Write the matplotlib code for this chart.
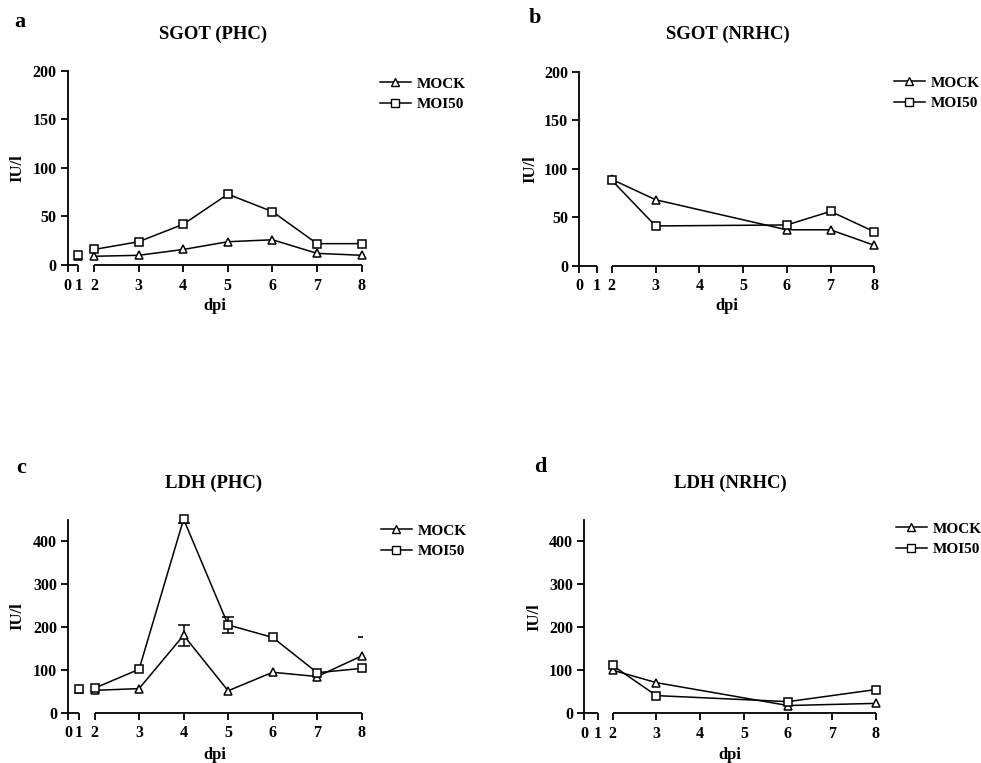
import numpy as np
import matplotlib
matplotlib.use('Agg')
import matplotlib.pyplot as plt
from matplotlib.lines import Line2D

plt.rcParams['font.family'] = ['Liberation Serif', 'DejaVu Serif']
plt.rcParams['font.weight'] = 'bold'

x_ticks = [0, 1, 2, 3, 4, 5, 6, 7, 8]
series_names = ['MOCK', 'MOI50']

# Panel a: SGOT (PHC)
a_days = [1, 2, 3, 4, 5, 6, 7, 8]
a_mock = [9, 9, 10, 16, 24, 26, 12, 10]
a_moi = [10, 16, 24, 42, 73, 55, 22, 22]

# Panel b: SGOT (NRHC)
b_days = [2, 3, 6, 7, 8]
b_mock = [89, 68, 37, 37, 21]
b_moi = [88, 41, 42, 56, 35]

# Panel c: LDH (PHC)
c_days = [1, 2, 3, 4, 5, 6, 7, 8]
c_mock = [54, 52, 56, 180, 51, 94, 84, 132]
c_mock_err = [0, 0, 0, 24, 0, 0, 0, 0]
c_moi = [54, 57, 101, 450, 204, 175, 93, 103]
c_moi_err = [0, 0, 0, 8, 18, 0, 0, 0]
c_cap_day = [8]
c_cap_val = [175]

# Panel d: LDH (NRHC)
d_days = [2, 3, 6, 8]
d_mock = [100, 71, 18, 23]
d_moi = [111, 41, 27, 55]

W, H = 981, 763
fig = plt.figure(figsize=(W / 100, H / 100), dpi=100)


def make_scale(p0, p1):
    xs = [0, 1, 2, 8]
    ps = [p0, p1, 2, 8]

    def fwd(x):
        x = np.asarray(x, dtype=float)
        out = np.interp(x, xs, ps)
        out = np.where(x < 0, p0 + x * (p1 - p0), out)
        out = np.where(x > 8, x, out)
        return out

    def inv(p):
        p = np.asarray(p, dtype=float)
        out = np.interp(p, ps, xs)
        out = np.where(p < p0, (p - p0) / (p1 - p0), out)
        out = np.where(p > 8, p, out)
        return out
    return fwd, inv


def px_axes(l, r, t, b):
    return [l / W, 1 - b / H, (r - l) / W, (b - t) / H]


def rect_top_px(rect):
    return (1 - rect[1] - rect[3]) * H


def rect_bot_px(rect):
    return (1 - rect[1]) * H


def draw_panel(rect, scale, ymax, yticks, days, mock, moi, title, letter,
               letter_xy, title_xy, leg_xy, ylab_x, xlab_y,
               mock_err=None, moi_err=None):
    ax = fig.add_axes(rect)
    ax.set_xscale('function', functions=make_scale(*scale))
    ax.set_xlim(0, 8)
    ax.set_ylim(0, ymax)
    for s in ['top', 'right', 'bottom']:
        ax.spines[s].set_visible(False)
    ax.spines['left'].set_linewidth(1.3)
    ax.hlines(0, 0, 1, color='black', lw=1.3, clip_on=False)
    ax.hlines(0, 2, 8, color='black', lw=1.3, clip_on=False)
    ax.set_xticks(x_ticks)
    ax.set_xticklabels([str(t) for t in x_ticks])
    ax.set_yticks(yticks)
    ax.tick_params(axis='both', direction='out', length=5, width=1.3,
                   labelsize=11.5, pad=3)
    ax.tick_params(axis='x', pad=4)
    for lab in ax.get_xticklabels() + ax.get_yticklabels():
        lab.set_fontweight('bold')

    days = np.asarray(days)
    for vals, mk, err in [(mock, '^', mock_err), (moi, 's', moi_err)]:
        vals = np.asarray(vals)
        for seg in [days <= 1, days >= 2]:
            if seg.sum() == 0:
                continue
            ax.plot(days[seg], vals[seg], '-', color='black', lw=1.1,
                    marker=mk, ms=6, mfc='white', mec='black', mew=1.1,
                    clip_on=False, zorder=3)
        if err is not None:
            err = np.asarray(err)
            m = err > 0
            ax.errorbar(days[m], vals[m], yerr=err[m], fmt='none',
                        ecolor='black', elinewidth=1.1, capsize=4,
                        capthick=1.1, zorder=2)

    handles = [Line2D([], [], color='black', lw=1.1, marker='^', ms=6,
                      mfc='white', mec='black'),
               Line2D([], [], color='black', lw=1.1, marker='s', ms=6,
                      mfc='white', mec='black')]
    ax.legend(handles, series_names, loc='center left',
              bbox_to_anchor=(leg_xy[0] / W, 1 - leg_xy[1] / H),
              bbox_transform=fig.transFigure, frameon=False,
              borderpad=0, borderaxespad=0, handlelength=2.0,
              handletextpad=0.4, labelspacing=0.45, numpoints=1,
              prop={'family': 'Liberation Serif', 'weight': 'bold', 'size': 11})

    fig.text(title_xy[0] / W, 1 - title_xy[1] / H, title, ha='center',
             va='center', fontsize=13.5, fontweight='bold')
    fig.text(letter_xy[0] / W, 1 - letter_xy[1] / H, letter, ha='center',
             va='center', fontsize=16, fontweight='bold')
    fig.text(ylab_x / W, 1 - (rect_top_px(rect) + rect_bot_px(rect)) / 2 / H,
             'IU/l', rotation=90, ha='center', va='center', fontsize=12,
             fontweight='bold')
    xc = (rect[0] + rect[0] + rect[2]) / 2
    fig.text(xc, 1 - xlab_y / H, 'dpi', ha='center', va='center',
             fontsize=12, fontweight='bold')
    return ax


ax_a = draw_panel(px_axes(67.7, 361.7, 71, 265), (1.41, 1.65), 200,
                  [0, 50, 100, 150, 200], a_days, a_mock, a_moi,
                  'SGOT (PHC)', 'a', (20, 22), (213, 34), (380, 94), 17, 306)
ax_b = draw_panel(px_axes(579, 874.3, 71.7, 265.7), (1.25, 1.66), 200,
                  [0, 50, 100, 150, 200], b_days, b_mock, b_moi,
                  'SGOT (NRHC)', 'b', (535, 18), (728, 34), (894, 93), 530, 306)
ax_c = draw_panel(px_axes(68.3, 361.7, 520, 712.7), (1.41, 1.65), 448,
                  [0, 100, 200, 300, 400], c_days, c_mock, c_moi,
                  'LDH (PHC)', 'c', (21, 468), (214, 483), (381, 541), 17, 755,
                  mock_err=c_mock_err, moi_err=c_moi_err)
ax_c.plot(c_cap_day, c_cap_val, marker='_', ms=6, mew=1.2, color='black',
          ls='none')
ax_d = draw_panel(px_axes(584, 875.7, 520, 713.3), (1.35, 1.67), 448,
                  [0, 100, 200, 300, 400], d_days, d_mock, d_moi,
                  'LDH (NRHC)', 'd', (540, 467), (730, 483), (896, 539), 534, 755)

fig.savefig('out.png', dpi=100, facecolor='white')
